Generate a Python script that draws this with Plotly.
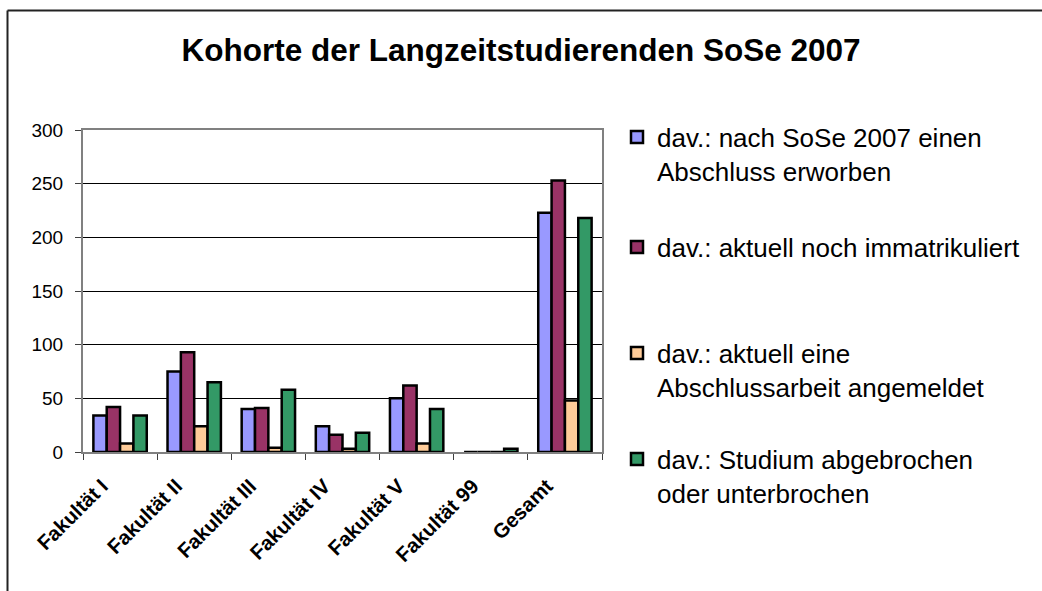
import plotly.graph_objects as go

categories = ["Fakultät I", "Fakultät II", "Fakultät III", "Fakultät IV",
              "Fakultät V", "Fakultät 99", "Gesamt"]
abschluss = [34, 75, 40, 24, 50, 0, 223]
immatrikuliert = [42, 93, 41, 16, 62, 0, 253]
abschlussarbeit = [8, 24, 4, 3, 8, 0, 48]
abgebrochen = [34, 65, 58, 18, 40, 3, 218]

series_names = [
    "dav.: nach SoSe 2007 einen<br>Abschluss erworben",
    "dav.: aktuell noch immatrikuliert",
    "dav.: aktuell eine<br>Abschlussarbeit angemeldet",
    "dav.: Studium abgebrochen<br>oder unterbrochen",
]
series_values = [abschluss, immatrikuliert, abschlussarbeit, abgebrochen]
series_colors = ["#9999FF", "#993366", "#FFCC99", "#339966"]
y_ticks = [0, 50, 100, 150, 200, 250, 300]

W, H = 1042, 591
L, R, T, B = 83, 602, 130, 452  # plot area in pixels

def px_x(px):
    return (px - L) / (R - L)

def px_y(py):
    return (B - py) / (B - T)

legend_names = ["legend", "legend2", "legend3", "legend4"]
legend_centers = [154, 247, 370, 476]

fig = go.Figure()
for name, vals, col, lg in zip(series_names, series_values, series_colors, legend_names):
    fig.add_trace(go.Bar(
        x=categories, y=vals, name=name, legend=lg,
        marker=dict(color=col, line=dict(color="black", width=2.5)),
    ))

font_family = "Liberation Sans, Arial, sans-serif"
legend_font = dict(family=font_family, size=26, color="black")

layout_legends = {}
for lg, cy in zip(legend_names, legend_centers):
    layout_legends[lg] = dict(
        x=px_x(617), xanchor="left", y=px_y(cy), yanchor="middle",
        font=legend_font, bgcolor="rgba(0,0,0,0)", borderwidth=0,
        valign="top",
    )

fig.update_layout(
    width=W, height=H,
    margin=dict(l=L, r=W - R, t=T, b=H - B, pad=0),
    paper_bgcolor="white", plot_bgcolor="white",
    barmode="group", bargap=0.28, bargroupgap=0,
    title=dict(
        text="Kohorte der Langzeitstudierenden SoSe 2007",
        x=0.5, xref="container", xanchor="center",
        y=1 - 50 / H, yanchor="middle",
        font=dict(family=font_family, size=31.5, color="black", weight="bold"),
    ),
    xaxis=dict(
        categoryorder="array", categoryarray=categories,
        showline=True, linecolor="#808080", linewidth=2, mirror=True,
        ticks="outside", ticklen=6, tickcolor="#404040", tickwidth=1,
        tickson="boundaries", tickangle=-45, layer="above traces",
        ticklabelshift=-18, ticklabelstandoff=12,
        tickfont=dict(family=font_family, size=20.5, color="black", weight="bold"),
        showgrid=False,
    ),
    yaxis=dict(
        range=[0, 300], tickvals=y_ticks,
        showline=True, linecolor="#808080", linewidth=2, mirror=True,
        ticks="outside", ticklen=6, tickcolor="#404040", tickwidth=1,
        ticklabelstandoff=8,
        tickfont=dict(family=font_family, size=19, color="black"),
        showgrid=True, gridcolor="black", gridwidth=1, zeroline=False,
    ),
    showlegend=True,
    **layout_legends,
)

# outer chart frame (left and top edges visible)
fig.add_shape(type="line", xref="paper", yref="paper",
              x0=px_x(7.5), x1=px_x(7.5), y0=px_y(10.5), y1=px_y(620),
              line=dict(color="#222222", width=2))
fig.add_shape(type="line", xref="paper", yref="paper",
              x0=px_x(7.5), x1=px_x(1100), y0=px_y(10.5), y1=px_y(10.5),
              line=dict(color="#222222", width=2))

fig.write_html(
    "out.html",
    config={"displayModeBar": False},
    post_script="document.body.style.margin='0';document.body.style.overflow='hidden';",
)
